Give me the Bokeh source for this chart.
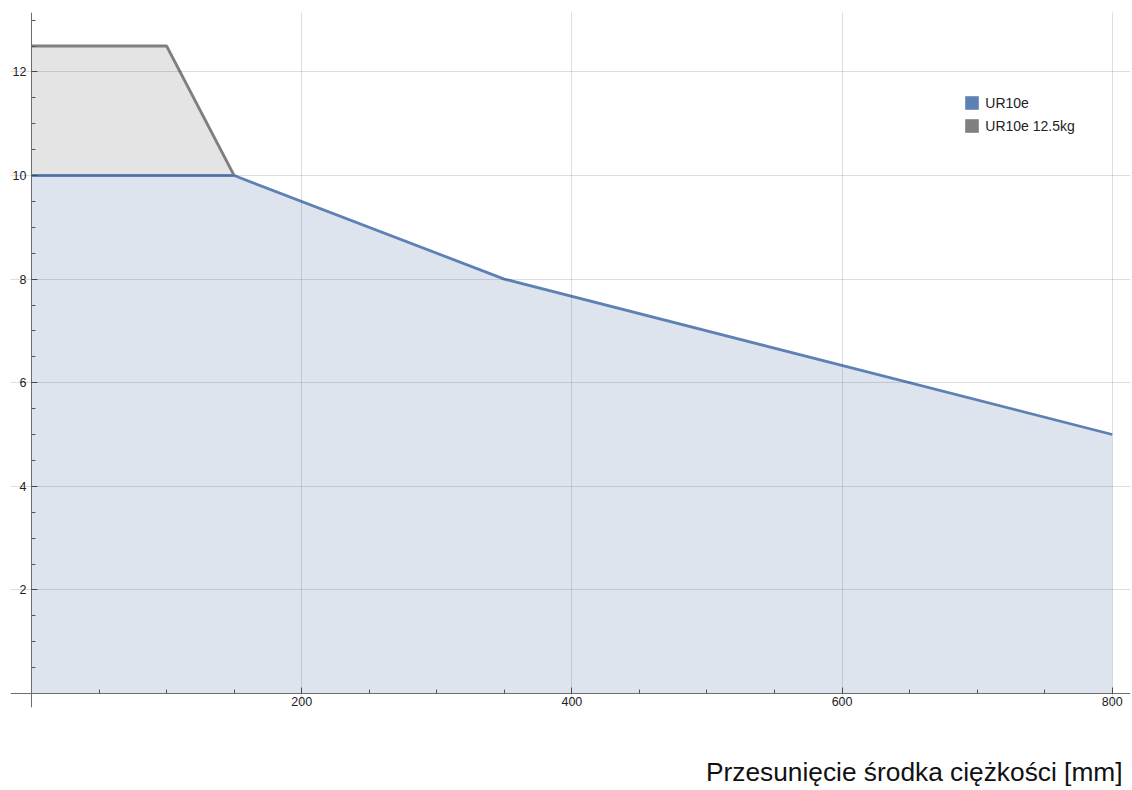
import numpy as np
from bokeh.plotting import figure
from bokeh.models import Range1d, FixedTicker, Legend, LegendItem, Title
from bokeh.embed import file_html
from bokeh.resources import INLINE

# ---- data ----
offset_ur10e = [0, 150, 350, 800]
payload_ur10e = [10, 10, 8, 5]
offset_ur10e_125 = [0, 100, 150]
payload_ur10e_125 = [12.5, 12.5, 10]

x_major_ticks = [200, 400, 600, 800]
x_minor_ticks = [50, 100, 150, 250, 300, 350, 450, 500, 550, 650, 700, 750]
y_major_ticks = [2, 4, 6, 8, 10, 12]
y_minor_ticks = [0.5, 1, 1.5, 2.5, 3, 3.5, 4.5, 5, 5.5, 6.5, 7, 7.5, 8.5, 9, 9.5,
                 10.5, 11, 11.5, 12.5, 13]
series_names = ["UR10e", "UR10e 12.5kg"]
x_title = "Przesunięcie środka ciężkości [mm]"

BLUE = "#5e81b5"
GRAY = "#7f7f7f"
BLUE_FILL = "#dee4ee"
GRAY_FILL = "#e4e4e4"
FONT = "Liberation Sans"

p = figure(width=1132, height=790, output_backend="svg", toolbar_location=None,
           x_range=Range1d(-15.54, 813.5), y_range=Range1d(-0.27, 13.147),
           min_border_left=10, min_border_right=2, min_border_top=12, min_border_bottom=83)
p.outline_line_color = None
p.background_fill_color = "white"

# fills
p.varea(x=offset_ur10e_125, y1=0, y2=payload_ur10e_125, fill_color=GRAY_FILL)
p.varea(x=offset_ur10e, y1=0, y2=payload_ur10e, fill_color=BLUE_FILL)
# lines
p.line(offset_ur10e_125, payload_ur10e_125, line_color=GRAY, line_width=2.8)
p.line(offset_ur10e, payload_ur10e, line_color=BLUE, line_width=2.8)

# axes
for ax, major, minor in ((p.xaxis[0], x_major_ticks, x_minor_ticks),
                         (p.yaxis[0], y_major_ticks, y_minor_ticks)):
    ax.ticker = FixedTicker(ticks=major, minor_ticks=minor)
    ax.fixed_location = 0
    ax.axis_line_color = "#6e6e6e"
    ax.axis_line_width = 1
    ax.major_tick_in = 6
    ax.major_tick_out = 0
    ax.minor_tick_in = 4
    ax.minor_tick_out = 0
    ax.major_tick_line_color = "#555555"
    ax.minor_tick_line_color = "#555555"
    ax.major_label_text_font = FONT
    ax.major_label_text_font_size = "12.5px"
    ax.major_label_text_color = "#222222"
p.xaxis.major_label_standoff = 3
p.yaxis.major_label_standoff = 5

for g, major in ((p.xgrid[0], x_major_ticks), (p.ygrid[0], y_major_ticks)):
    g.ticker = FixedTicker(ticks=major)
    g.grid_line_color = "#000000"
    g.grid_line_alpha = 0.13
    g.level = "guide"

# legend (solid swatches; NaN geometry so nothing is drawn in the plot area)
nan = [float("nan")]
sw1 = p.quad(left=nan, right=nan, top=nan, bottom=nan, fill_color=BLUE, line_color=None)
sw2 = p.quad(left=nan, right=nan, top=nan, bottom=nan, fill_color=GRAY, line_color=None)
legend = Legend(items=[LegendItem(label=series_names[0], renderers=[sw1]),
                       LegendItem(label=series_names[1], renderers=[sw2])],
                location=(953.3, 573), padding=0, margin=0, spacing=6,
                glyph_width=17, glyph_height=17, label_height=12,
                label_standoff=5, label_text_font=FONT, label_text_font_size="14px",
                label_text_color="#222222",
                border_line_alpha=0, background_fill_alpha=0)
p.add_layout(legend, "center")

# spacer panel, then the axis title below it
p.add_layout(Title(text=" ", text_font=FONT, text_font_size="26px", standoff=15), "below")
p.add_layout(Title(text=x_title, align="right", standoff=0, offset=8,
                   text_font=FONT, text_font_size="26.3px", text_font_style="normal",
                   text_color="#111111"), "below")

open("out.html", "w").write(file_html(p, INLINE))
